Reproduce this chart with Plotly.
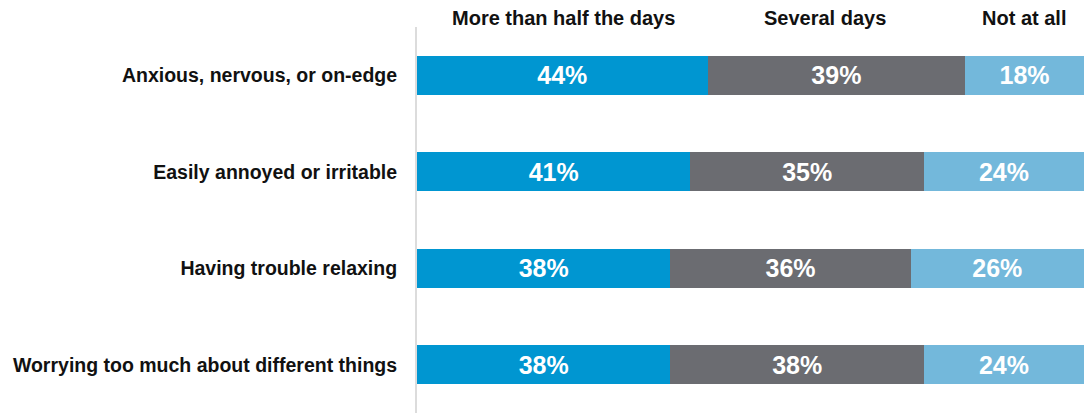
import plotly.graph_objects as go

categories = [
    "Anxious, nervous, or on-edge",
    "Easily annoyed or irritable",
    "Having trouble relaxing",
    "Worrying too much about different things",
]
series_names = ["More than half the days", "Several days", "Not at all"]
more_than_half = [44, 41, 38, 38]
several_days = [39, 35, 36, 38]
not_at_all = [18, 24, 26, 24]

colors = ["#0096d1", "#6b6c71", "#73b8db"]
FONT = "Liberation Sans, Arial, sans-serif"

fig = go.Figure()
for name, vals, col in zip(series_names, [more_than_half, several_days, not_at_all], colors):
    fig.add_trace(go.Bar(
        name=name,
        y=categories,
        x=vals,
        orientation="h",
        marker=dict(color=col, line=dict(width=0)),
        text=[f"{v}%" for v in vals],
        textposition="inside",
        insidetextanchor="middle",
        textangle=0,
        textfont=dict(family=FONT, size=25, color="white", weight="bold"),
        hoverinfo="skip",
    ))

# column headers placed over the segments of the first row
header_x = [22.0, 61.2, 91.0]
for name, hx in zip(series_names, header_x):
    fig.add_annotation(
        text=name, x=hx, xref="x", y=1, yref="paper",
        yanchor="middle", yshift=9, showarrow=False,
        font=dict(family=FONT, size=20, color="#111111", weight="bold"),
    )

fig.update_layout(
    width=1084, height=413,
    barmode="stack", barnorm="percent", bargap=0.6,
    margin=dict(l=417, r=0, t=27, b=0),
    plot_bgcolor="white", paper_bgcolor="white",
    showlegend=False,
)
fig.update_xaxes(range=[0, 100], visible=False, fixedrange=True)
fig.update_yaxes(
    autorange="reversed", showgrid=False, ticks="",
    showline=True, linecolor="#dcdcdc", linewidth=2,
    ticklabelstandoff=14,
    tickfont=dict(family=FONT, size=19.5, color="#111111", weight="bold"),
)

fig.write_html("out.html")
